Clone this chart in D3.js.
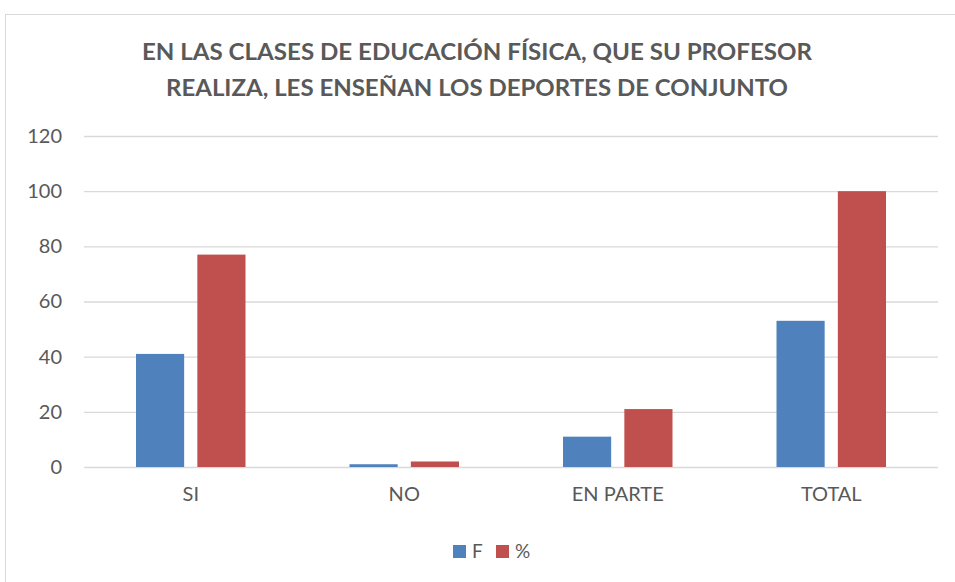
<!DOCTYPE html>
<html>
<head>
<meta charset="utf-8">
<script src="https://cdn.jsdelivr.net/npm/d3@7"></script>
<style>
  body { margin: 0; background: #fff; }
</style>
</head>
<body>
<script>
// Chart data
const categories = ["SI", "NO", "EN PARTE", "TOTAL"];
const seriesNames = ["F", "%"];
const valuesF = [41, 1, 11, 53];
const valuesPct = [77, 2, 21, 100];
const yTicks = [0, 20, 40, 60, 80, 100, 120];
const titleLines = [
  "EN LAS CLASES DE EDUCACIÓN FÍSICA, QUE SU PROFESOR",
  "REALIZA, LES ENSEÑAN LOS DEPORTES DE CONJUNTO"
];

const WIDTH = 955;
const HEIGHT = 582;
const COLORS = ["#4F81BD", "#C0504D"];
const TEXT_COLOR = "#595959";
const FONT = "Lato, 'Open Sans', sans-serif";

const svg = d3.select("body").append("svg")
  .attr("width", WIDTH)
  .attr("height", HEIGHT);

// Chart area border
svg.append("rect")
  .attr("x", 5.5)
  .attr("y", 14.5)
  .attr("width", WIDTH + 10)
  .attr("height", HEIGHT + 10)
  .attr("fill", "white")
  .attr("stroke", "#d9d9d9")
  .attr("stroke-width", 1);

// Title, squeezed to the width of the original
const titleWidths = [670, 622];
titleLines.forEach((line, i) => {
  svg.append("text")
    .attr("x", 477)
    .attr("y", 60 + i * 36)
    .attr("text-anchor", "middle")
    .attr("font-family", FONT)
    .attr("font-weight", "bold")
    .attr("font-size", 23)
    .attr("fill", TEXT_COLOR)
    .attr("textLength", titleWidths[i])
    .attr("lengthAdjust", "spacingAndGlyphs")
    .text(line);
});

// Scales
const plot = { left: 84, right: 938, top: 136, bottom: 467 };

const y = d3.scaleLinear()
  .domain([0, 120])
  .range([plot.bottom, plot.top]);

const x0 = d3.scaleBand()
  .domain(categories)
  .range([plot.left, plot.right]);

const groupPad = 52;
const x1 = d3.scaleBand()
  .domain(seriesNames)
  .range([groupPad, x0.bandwidth() - groupPad])
  .paddingInner(0.215);

// Gridlines and y axis labels
const yAxis = d3.axisLeft(y)
  .tickValues(yTicks)
  .tickSize(-(plot.right - plot.left))
  .tickPadding(22);

const yAxisG = svg.append("g")
  .attr("transform", `translate(${plot.left},0)`)
  .call(yAxis);

yAxisG.select(".domain").remove();
yAxisG.selectAll(".tick line")
  .attr("stroke", "#d9d9d9")
  .attr("stroke-width", 1.3);
yAxisG.selectAll(".tick text")
  .attr("font-family", FONT)
  .attr("font-size", 20)
  .attr("fill", TEXT_COLOR);

// Bars
const rows = categories.map((c, i) => ({
  category: c,
  values: [valuesF[i], valuesPct[i]]
}));

const groups = svg.append("g")
  .selectAll("g")
  .data(rows)
  .enter()
  .append("g")
  .attr("transform", d => `translate(${x0(d.category)},0)`);

groups.selectAll("rect")
  .data(d => d.values.map((v, i) => ({ series: seriesNames[i], value: v, color: COLORS[i] })))
  .enter()
  .append("rect")
  .attr("x", d => x1(d.series))
  .attr("y", d => y(d.value))
  .attr("width", x1.bandwidth())
  .attr("height", d => y(0) - y(d.value))
  .attr("fill", d => d.color);

// Category labels
const xAxis = d3.axisBottom(x0)
  .tickSize(0)
  .tickPadding(20);

const xAxisG = svg.append("g")
  .attr("transform", `translate(0,${plot.bottom})`)
  .call(xAxis);

xAxisG.select(".domain").remove();
xAxisG.selectAll(".tick text")
  .attr("font-family", FONT)
  .attr("font-size", 20)
  .attr("fill", TEXT_COLOR);

// Legend
const legend = svg.append("g")
  .attr("transform", "translate(453,545)");

const legendOffsets = [0, 43];
seriesNames.forEach((name, i) => {
  const item = legend.append("g")
    .attr("transform", `translate(${legendOffsets[i]},0)`);
  item.append("rect")
    .attr("width", 13)
    .attr("height", 13)
    .attr("fill", COLORS[i]);
  item.append("text")
    .attr("x", 19)
    .attr("y", 13)
    .attr("font-family", FONT)
    .attr("font-size", 19)
    .attr("fill", TEXT_COLOR)
    .text(name);
});
</script>
</body>
</html>
